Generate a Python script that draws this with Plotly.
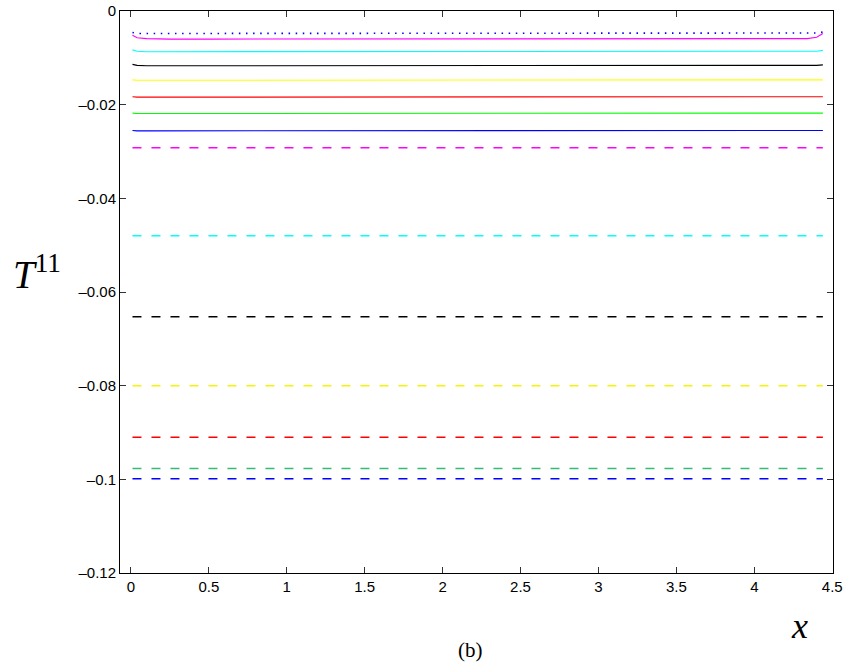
import plotly.graph_objects as go

# sample positions along x
x_pts = [0.01, 0.04, 0.1, 0.25, 0.5, 1.0, 2.0, 3.0, 4.0, 4.2, 4.34, 4.40, 4.44]

# solid curves (slight edge effects at both ends)
solid_magenta = [-0.0052, -0.0057, -0.0059, -0.0060, -0.0060, -0.0060, -0.0060, -0.0060, -0.0060, -0.0060, -0.0059, -0.0056, -0.0048]
solid_cyan    = [-0.0083, -0.0086, -0.0087, -0.0087, -0.0087, -0.0087, -0.0087, -0.0087, -0.0087, -0.0087, -0.0087, -0.0086, -0.0084]
solid_black   = [-0.0114, -0.0116, -0.0117, -0.0117, -0.0117, -0.0117, -0.0117, -0.0117, -0.0117, -0.0117, -0.0117, -0.0116, -0.0115]
solid_yellow  = [-0.0147, -0.0148, -0.0148, -0.0148, -0.0148, -0.0148, -0.0148, -0.0148, -0.0148, -0.0148, -0.0148, -0.0148, -0.0147]
solid_red     = [-0.0183, -0.0184, -0.0184, -0.0184, -0.0184, -0.0184, -0.0184, -0.0184, -0.0184, -0.0184, -0.0184, -0.0184, -0.0183]
solid_green   = [-0.0218, -0.0219, -0.0219, -0.0219, -0.0219, -0.0219, -0.0219, -0.0219, -0.0219, -0.0219, -0.0219, -0.0219, -0.0218]
solid_blue    = [-0.0255, -0.0256, -0.0256, -0.0256, -0.0256, -0.0256, -0.0256, -0.0256, -0.0256, -0.0256, -0.0256, -0.0256, -0.0255]
dotted_blue   = [-0.0046, -0.0048, -0.0048, -0.0048, -0.0048, -0.0048, -0.0048, -0.0048, -0.0048, -0.0048, -0.0048, -0.0047, -0.0045]

# dashed (constant) levels
dashed_levels = [-0.0292, -0.0480, -0.0653, -0.0800, -0.0910, -0.0977, -0.0999]
dashed_colors = ["#ff00ff", "#00ffff", "#000000", "#f5f500", "#ff0000", "#33bb77", "#0000ff"]

solid_series = [solid_magenta, solid_cyan, solid_black, solid_yellow, solid_red, solid_green, solid_blue]
solid_colors = ["#ff00ff", "#00ffff", "#000000", "#ffff00", "#ff0000", "#00ff00", "#0000ff"]

fig = go.Figure()

for vals, col in zip(solid_series, solid_colors):
    fig.add_trace(go.Scatter(x=x_pts, y=vals, mode="lines",
                             line=dict(color=col, width=1.1),
                             showlegend=False, hoverinfo="skip"))

fig.add_trace(go.Scatter(x=x_pts, y=dotted_blue, mode="lines",
                         line=dict(color="#0000ff", width=1.6, dash="1.5px,5.6px"),
                         showlegend=False, hoverinfo="skip"))

for lvl, col in zip(dashed_levels, dashed_colors):
    fig.add_trace(go.Scatter(x=[x_pts[0], x_pts[-1]], y=[lvl, lvl], mode="lines",
                             line=dict(color=col, width=1.5, dash="9px,10px"),
                             showlegend=False, hoverinfo="skip"))

axis_common = dict(showline=True, linecolor="black", linewidth=1, mirror="ticks",
                   ticks="inside", ticklen=6, tickcolor="#333333",
                   showgrid=False, zeroline=False, automargin=False,
                   tickfont=dict(family="Liberation Sans, Arial", size=15, color="black"))

fig.update_xaxes(range=[-0.07, 4.505], tickvals=[0, 0.5, 1, 1.5, 2, 2.5, 3, 3.5, 4, 4.5],
                 ticktext=["0", "0.5", "1", "1.5", "2", "2.5", "3", "3.5", "4", "4.5"],
                 **axis_common)
fig.update_yaxes(range=[-0.12, 0], tickvals=[0, -0.02, -0.04, -0.06, -0.08, -0.1, -0.12],
                 ticktext=["0", "\u20130.02", "\u20130.04", "\u20130.06", "\u20130.08", "\u20130.1", "\u20130.12"],
                 **axis_common)

serif = "Liberation Serif, DejaVu Serif, serif"
fig.update_layout(
    width=848, height=671,
    margin=dict(l=120, r=15, t=11, b=98, autoexpand=False),
    paper_bgcolor="white", plot_bgcolor="white",
    annotations=[
        dict(text="<i>T</i><sup>11</sup>", xref="paper", yref="paper", x=-0.116, y=0.535,
             xanchor="center", yanchor="middle", showarrow=False,
             font=dict(family=serif, size=39, color="black")),
        dict(text="<i>x</i>", xref="paper", yref="paper", x=0.953, y=-0.095,
             xanchor="center", yanchor="middle", showarrow=False,
             font=dict(family=serif, size=36, color="black")),
        dict(text="(b)", xref="paper", yref="paper", x=0.492, y=-0.137,
             xanchor="center", yanchor="middle", showarrow=False,
             font=dict(family=serif, size=21, color="black")),
    ],
)

fig.write_html("out.html", config={"displayModeBar": False},
               post_script="document.body.style.margin='0px';document.body.style.overflow='hidden';")
